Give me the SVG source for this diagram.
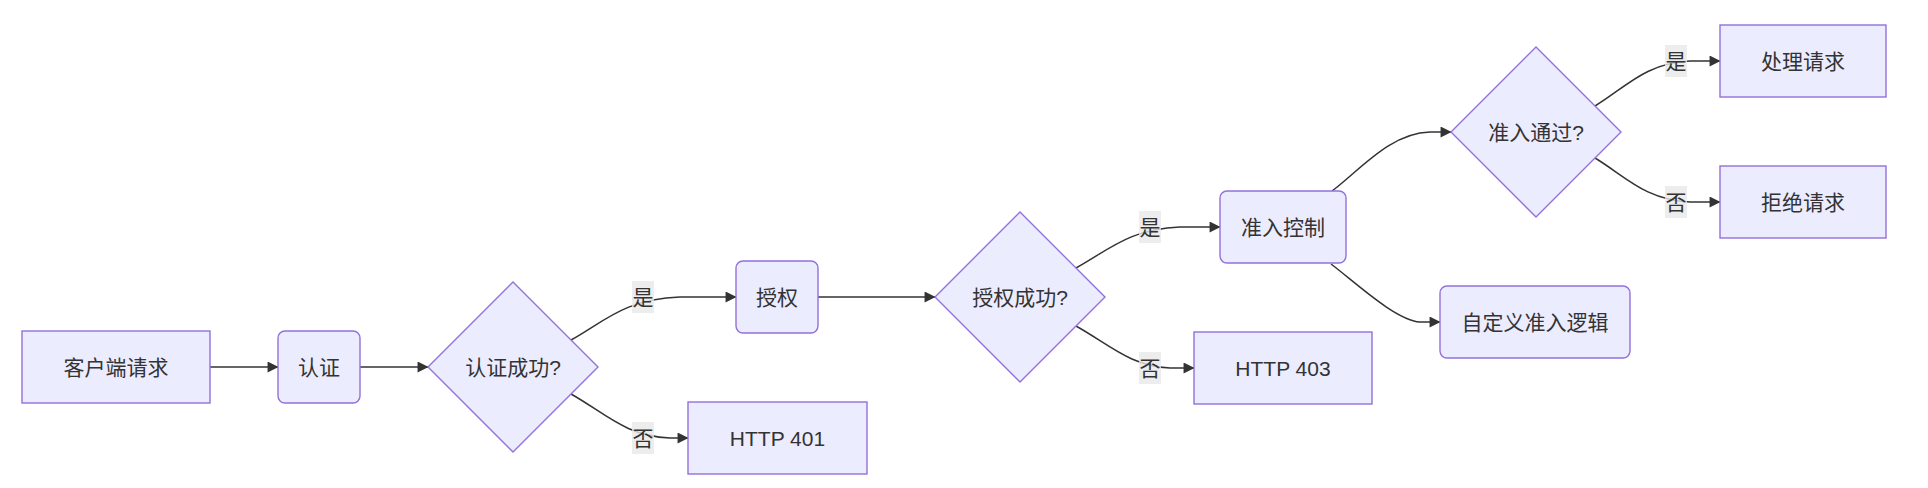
<svg xmlns="http://www.w3.org/2000/svg" width="1928" height="488" viewBox="0 0 1928 488">
<style>
.node rect, .node polygon { fill: #ECECFF; stroke: #9370DB; stroke-width: 1.4; }
.node text { font-family: "Liberation Sans", "Noto Sans CJK SC", sans-serif; font-size: 21px; fill: #333333; text-anchor: middle; dominant-baseline: central; }
.edge { fill: none; stroke: #333333; stroke-width: 1.5; marker-end: url(#arrow); }
.lbl rect { fill: #e8e8e8; fill-opacity: 0.8; stroke: none; }
.lbl text { font-family: "Liberation Sans", "Noto Sans CJK SC", sans-serif; font-size: 21px; fill: #333333; text-anchor: middle; dominant-baseline: central; }
</style>
<defs>
<marker id="arrow" viewBox="0 0 10 10" refX="9.5" refY="5" markerUnits="userSpaceOnUse" markerWidth="12" markerHeight="11" orient="auto">
<path d="M0,0 L10,5 L0,10 z" fill="#333333"/>
</marker>
</defs>
<rect width="1928" height="488" fill="#ffffff"/>
<g id="connectors">
<path class="edge" d="M210,367 L278,367"/>
<path class="edge" d="M360,367 L428,367"/>
<path class="edge" d="M571,340 C605,321 625,299 680,297 L736,297"/>
<path class="edge" d="M571,394 C605,413 625,436 670,438 L688,438"/>
<path class="edge" d="M818,297 L935,297"/>
<path class="edge" d="M1076,268 C1110,249 1130,229 1180,227 L1220,227"/>
<path class="edge" d="M1076,326 C1110,345 1130,366 1170,368 L1194,368"/>
<path class="edge" d="M1332,191 C1360,170 1390,133 1430,132 L1451,132"/>
<path class="edge" d="M1331,264 C1355,282 1395,320 1420,322 L1440,322"/>
<path class="edge" d="M1595,106 C1625,88 1645,63 1690,61 L1720,61"/>
<path class="edge" d="M1595,158 C1625,176 1645,200 1690,202 L1720,202"/>
<g class="lbl"><rect x="632" y="281" width="22" height="32"/><text x="643" y="297">是</text></g>
<g class="lbl"><rect x="632" y="422" width="22" height="32"/><text x="643" y="438">否</text></g>
<g class="lbl"><rect x="1139" y="211" width="22" height="32"/><text x="1150" y="227">是</text></g>
<g class="lbl"><rect x="1139" y="352" width="22" height="32"/><text x="1150" y="368">否</text></g>
<g class="lbl"><rect x="1665" y="45" width="22" height="32"/><text x="1676" y="61">是</text></g>
<g class="lbl"><rect x="1665" y="186" width="22" height="32"/><text x="1676" y="202">否</text></g>
</g>
<g id="n-client" class="node"><rect x="22" y="331" width="188" height="72"/><text x="116" y="367">客户端请求</text></g>
<g id="n-authn" class="node"><rect x="278" y="331" width="82" height="72" rx="7"/><text x="319" y="367">认证</text></g>
<g id="n-authn-ok" class="node"><polygon points="513,282 598,367 513,452 428,367"/><text x="513" y="367">认证成功?</text></g>
<g id="n-authz" class="node"><rect x="736" y="261" width="82" height="72" rx="7"/><text x="777" y="297">授权</text></g>
<g id="n-401" class="node"><rect x="688" y="402" width="179" height="72"/><text x="777.5" y="438">HTTP 401</text></g>
<g id="n-authz-ok" class="node"><polygon points="1020,212 1105,297 1020,382 935,297"/><text x="1020" y="297">授权成功?</text></g>
<g id="n-admission" class="node"><rect x="1220" y="191" width="126" height="72" rx="7"/><text x="1283" y="227">准入控制</text></g>
<g id="n-403" class="node"><rect x="1194" y="332" width="178" height="72"/><text x="1283" y="368">HTTP 403</text></g>
<g id="n-admit-ok" class="node"><polygon points="1536,47 1621,132 1536,217 1451,132"/><text x="1536" y="132">准入通过?</text></g>
<g id="n-custom" class="node"><rect x="1440" y="286" width="190" height="72" rx="7"/><text x="1535" y="322">自定义准入逻辑</text></g>
<g id="n-process" class="node"><rect x="1720" y="25" width="166" height="72"/><text x="1803" y="61">处理请求</text></g>
<g id="n-reject" class="node"><rect x="1720" y="166" width="166" height="72"/><text x="1803" y="202">拒绝请求</text></g>
</svg>
